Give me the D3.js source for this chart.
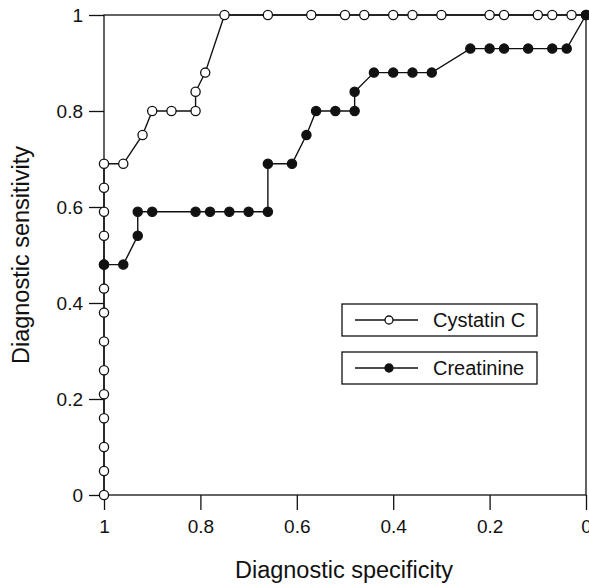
<!DOCTYPE html>
<html>
<head>
<meta charset="utf-8">
<script src="https://cdn.jsdelivr.net/npm/d3@7"></script>
<style>
  body { margin: 0; background: #fff; }
  svg { display: block; font-family: "Liberation Sans", Arial, Helvetica, sans-serif; }
  .axis text { font-size: 19px; fill: #111; }
  .axis line { stroke: #111; stroke-width: 1.3; }
  .title { font-size: 23.5px; fill: #111; }
  .legend text { font-size: 20px; fill: #111; }
</style>
</head>
<body>
<svg id="chart" width="589" height="585"></svg>
<script>
// Specificity (x) / sensitivity (y) pairs
var cystatinSpec = [1, 1, 1, 1, 1, 1, 1, 1, 1, 1, 1, 1, 1, 1,
                    0.96, 0.92, 0.90, 0.86, 0.81, 0.81, 0.79, 0.75,
                    0.66, 0.57, 0.50, 0.46, 0.40, 0.36, 0.30, 0.20, 0.17, 0.10, 0.07, 0.03, 0];
var cystatinSens = [0, 0.05, 0.10, 0.16, 0.21, 0.26, 0.32, 0.38, 0.43, 0.48, 0.54, 0.59, 0.64, 0.69,
                    0.69, 0.75, 0.80, 0.80, 0.80, 0.84, 0.88, 1,
                    1, 1, 1, 1, 1, 1, 1, 1, 1, 1, 1, 1, 1];

var creatinineSpec = [1, 0.96, 0.93, 0.93, 0.90, 0.81, 0.78, 0.74, 0.70, 0.66,
                      0.66, 0.61, 0.58, 0.56, 0.52, 0.48, 0.48,
                      0.44, 0.40, 0.36, 0.32,
                      0.24, 0.20, 0.17, 0.12, 0.07, 0.04, 0];
var creatinineSens = [0.48, 0.48, 0.54, 0.59, 0.59, 0.59, 0.59, 0.59, 0.59, 0.59,
                      0.69, 0.69, 0.75, 0.80, 0.80, 0.80, 0.84,
                      0.88, 0.88, 0.88, 0.88,
                      0.93, 0.93, 0.93, 0.93, 0.93, 0.93, 1];

var xTicks = [1, 0.8, 0.6, 0.4, 0.2, 0];
var yTicks = [0, 0.2, 0.4, 0.6, 0.8, 1];
var seriesNames = ['Cystatin C', 'Creatinine'];

(function() {

var svg = d3.select('#chart');
var plotLeft = 104, plotRight = 586, plotTop = 15, plotBottom = 495;

var x = d3.scaleLinear().domain([1, 0]).range([plotLeft, plotRight]);
var y = d3.scaleLinear().domain([0, 1]).range([plotBottom, plotTop]);

function zip(xs, ys) {
  return xs.map(function(v, i) { return [v, ys[i]]; });
}

// Axes (ticks outward, frame drawn separately)
var xAxis = svg.append('g')
    .attr('class', 'axis')
    .attr('transform', 'translate(0,' + plotBottom + ')')
    .call(d3.axisBottom(x).tickValues(xTicks).tickFormat(d3.format('~g'))
      .tickSize(15).tickSizeOuter(0).tickPadding(10));
xAxis.select('.domain').remove();

var yAxis = svg.append('g')
    .attr('class', 'axis')
    .attr('transform', 'translate(' + plotLeft + ',0)')
    .call(d3.axisLeft(y).tickValues(yTicks).tickFormat(d3.format('~g'))
      .tickSize(15).tickSizeOuter(0).tickPadding(6));
yAxis.select('.domain').remove();

// Frame
svg.append('rect')
    .attr('x', plotLeft)
    .attr('y', plotTop)
    .attr('width', plotRight - plotLeft)
    .attr('height', plotBottom - plotTop)
    .attr('fill', 'none')
    .attr('stroke', '#111')
    .attr('stroke-width', 1.3);

// Titles
svg.append('text')
    .attr('class', 'title')
    .attr('text-anchor', 'middle')
    .attr('x', 344)
    .attr('y', 578)
    .text('Diagnostic specificity');
svg.append('text')
    .attr('class', 'title')
    .attr('text-anchor', 'middle')
    .attr('transform', 'translate(29,255) rotate(-90)')
    .text('Diagnostic sensitivity');

// Curves
var line = d3.line()
    .x(function(d) { return x(d[0]); })
    .y(function(d) { return y(d[1]); });

var series = [
  { pts: zip(cystatinSpec, cystatinSens), fill: '#fff' },
  { pts: zip(creatinineSpec, creatinineSens), fill: '#111' }
];

series.forEach(function(s) {
  svg.append('path')
      .attr('d', line(s.pts))
      .attr('fill', 'none')
      .attr('stroke', '#111')
      .attr('stroke-width', 1.4);
});
series.forEach(function(s) {
  svg.append('g').selectAll('circle')
      .data(s.pts)
    .enter().append('circle')
      .attr('cx', function(d) { return x(d[0]); })
      .attr('cy', function(d) { return y(d[1]); })
      .attr('r', 4.6)
      .attr('fill', s.fill)
      .attr('stroke', '#111')
      .attr('stroke-width', 1.3);
});

// Legend: one box per series
var legend = svg.append('g').attr('class', 'legend');
seriesNames.forEach(function(name, i) {
  var by = 304 + i * 48;
  var g = legend.append('g').attr('transform', 'translate(342,' + by + ')');
  g.append('rect')
      .attr('width', 195)
      .attr('height', 32)
      .attr('fill', '#fff')
      .attr('stroke', '#111')
      .attr('stroke-width', 1.3);
  g.append('line')
      .attr('x1', 13).attr('x2', 76)
      .attr('y1', 16).attr('y2', 16)
      .attr('stroke', '#111')
      .attr('stroke-width', 1.3);
  g.append('circle')
      .attr('cx', 47).attr('cy', 16)
      .attr('r', 4)
      .attr('fill', series[i].fill)
      .attr('stroke', '#111')
      .attr('stroke-width', 1.3);
  g.append('text')
      .attr('x', 91)
      .attr('y', 23)
      .text(name);
});

})();
</script>
</body>
</html>
